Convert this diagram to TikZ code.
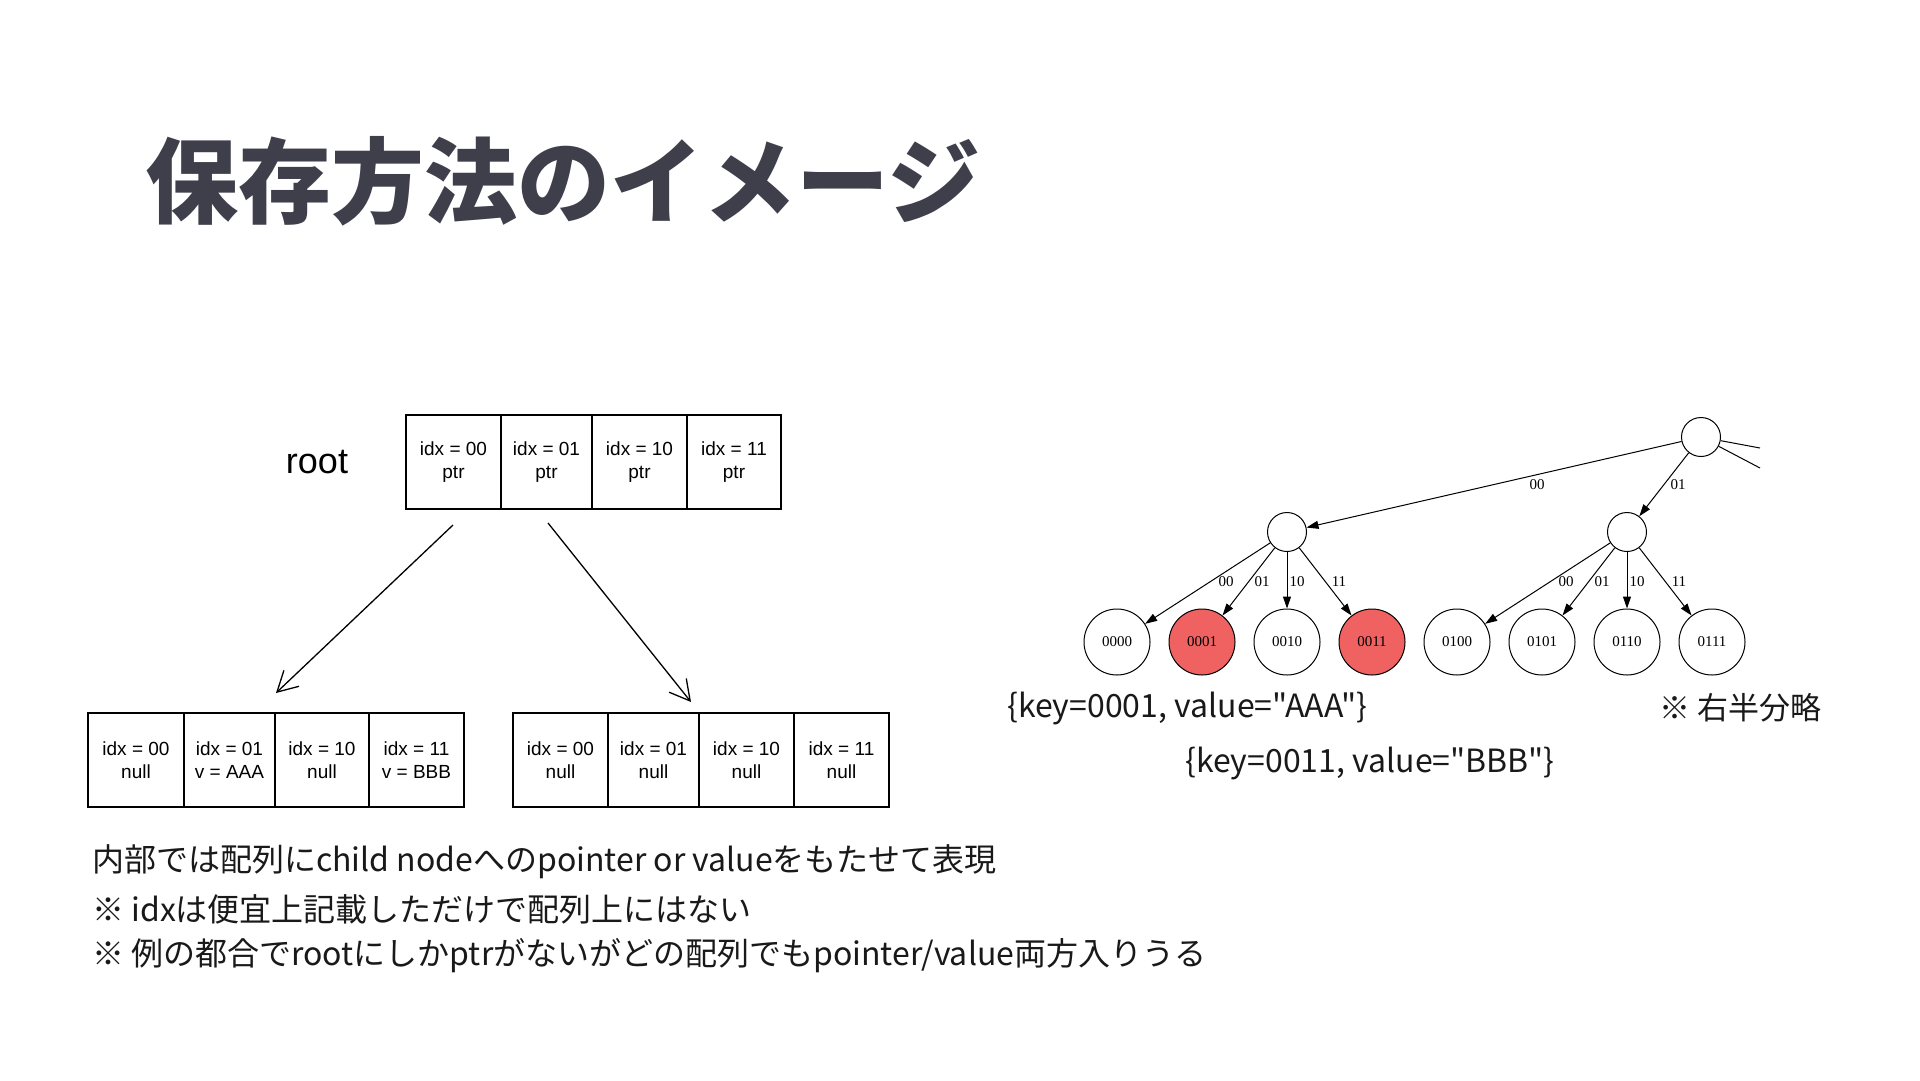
\documentclass[tikz,border=0pt]{standalone}
\usepackage{fontspec}
\setmainfont{Noto Sans CJK JP}[Ligatures=TeXOff]
\newfontfamily\helv{Liberation Sans}
\newfontfamily\tms{Liberation Serif}
\usetikzlibrary{arrows.meta}
\definecolor{titlegray}{RGB}{62,63,75}
\definecolor{leafred}{RGB}{240,98,98}
\definecolor{bodytext}{RGB}{25,25,25}
\begin{document}
\begin{tikzpicture}[x=1pt,y=-1pt,
  cell/.style={draw=black, line width=1.3pt, minimum height=94pt, inner sep=0pt, align=center,
    font=\helv\fontsize{19}{23}\selectfont, text=black},
  tnode/.style={circle, draw=black, line width=1pt, minimum size=39pt, inner sep=0pt},
  leaf/.style={circle, draw=black, line width=1pt, minimum size=66pt, inner sep=0pt,
    font=\tms\fontsize{15}{18}\selectfont},
  redleaf/.style={leaf, fill=leafred},
  elabel/.style={font=\tms\fontsize{15}{18}\selectfont, inner sep=0pt},
  tedge/.style={line width=1pt, -{Triangle[length=12pt,width=8pt]}},
  bigarrow/.style={line width=1.3pt, -{Straight Barb[length=20pt,width=22pt,line width=1.3pt]}},
  jtext/.style={font=\fontsize{32}{36}\selectfont, anchor=west, inner sep=0pt, text=bodytext}
]
\useasboundingbox (0,0) rectangle (1920,1080);
\fill[white] (0,0) rectangle (1920,1080);

% title
\node[anchor=west, inner sep=0pt, text=titlegray, font=\bfseries\fontsize{93}{100}\selectfont] (title) at (145,181) {保存方法のイメージ};

% root array
\node[font=\helv\fontsize{36}{40}\selectfont, inner sep=0pt] (rootlbl) at (317,462) {root};
\node[cell, minimum width=95pt] (r0) at (453.5,462) {idx = 00\\ptr};
\node[cell, minimum width=91pt] (r1) at (546.5,462) {idx = 01\\ptr};
\node[cell, minimum width=95pt] (r2) at (639.5,462) {idx = 10\\ptr};
\node[cell, minimum width=94pt] (r3) at (734,462) {idx = 11\\ptr};

% left child array
\node[cell, minimum width=96pt] (a0) at (136,760) {idx = 00\\null};
\node[cell, minimum width=91pt] (a1) at (229.5,760) {idx = 01\\v = AAA};
\node[cell, minimum width=94pt] (a2) at (322,760) {idx = 10\\null};
\node[cell, minimum width=95pt] (a3) at (416.5,760) {idx = 11\\v = BBB};

% right child array
\node[cell, minimum width=95pt] (b0) at (560.5,760) {idx = 00\\null};
\node[cell, minimum width=91pt] (b1) at (653.5,760) {idx = 01\\null};
\node[cell, minimum width=95pt] (b2) at (746.5,760) {idx = 10\\null};
\node[cell, minimum width=95pt] (b3) at (841.5,760) {idx = 11\\null};

\coordinate (p1s) at (453,525);
\coordinate (p1e) at (276,693);
\coordinate (p2s) at (548,523);
\coordinate (p2e) at (691,702);
\draw[bigarrow] (p1s) -- (p1e);
\draw[bigarrow] (p2s) -- (p2e);

% tree
\node[tnode] (t) at (1701,437) {};
\node[tnode] (c0) at (1287,532) {};
\node[tnode] (c1) at (1627,532) {};
\coordinate (tx1) at (1760,448);
\coordinate (tx2) at (1760,468);
\draw[line width=1pt] (t) -- (tx1);
\draw[line width=1pt] (t) -- (tx2);
\draw[tedge] (t) -- (c0);
\draw[tedge] (t) -- (c1);
\node[elabel] (e00) at (1537,485) {00};
\node[elabel] (e01) at (1678,485) {01};

\node[leaf] (l0) at (1117,642) {0000};
\node[redleaf] (l1) at (1202,642) {0001};
\node[leaf] (l2) at (1287,642) {0010};
\node[redleaf] (l3) at (1372,642) {0011};
\node[leaf] (l4) at (1457,642) {0100};
\node[leaf] (l5) at (1542,642) {0101};
\node[leaf] (l6) at (1627,642) {0110};
\node[leaf] (l7) at (1712,642) {0111};

\draw[tedge] (c0) -- (l0);
\draw[tedge] (c0) -- (l1);
\draw[tedge] (c0) -- (l2);
\draw[tedge] (c0) -- (l3);
\draw[tedge] (c1) -- (l4);
\draw[tedge] (c1) -- (l5);
\draw[tedge] (c1) -- (l6);
\draw[tedge] (c1) -- (l7);

\node[elabel] (f00) at (1226,582) {00};
\node[elabel] (f01) at (1262,582) {01};
\node[elabel] (f10) at (1297,582) {10};
\node[elabel] (f11) at (1339,582) {11};
\node[elabel] (g00) at (1566,582) {00};
\node[elabel] (g01) at (1602,582) {01};
\node[elabel] (g10) at (1637,582) {10};
\node[elabel] (g11) at (1679,582) {11};

\node[jtext] (kv1) at (1007,708) {\{key=0001, value="AAA"\}};
\node[jtext] (kv2) at (1185,763) {\{key=0011, value="BBB"\}};
\node[jtext, font=\fontsize{31}{36}\selectfont] (omit) at (1659,708) {※ 右半分略};

% bottom notes
\node[jtext] (n1) at (92,862) {内部では配列にchild nodeへのpointer or valueをもたせて表現};
\node[jtext] (n2) at (92,909) {※ idxは便宜上記載しただけで配列上にはない};
\node[jtext] (n3) at (92,956) {※ 例の都合でrootにしかptrがないがどの配列でもpointer/value両方入りうる};
\end{tikzpicture}
\end{document}
